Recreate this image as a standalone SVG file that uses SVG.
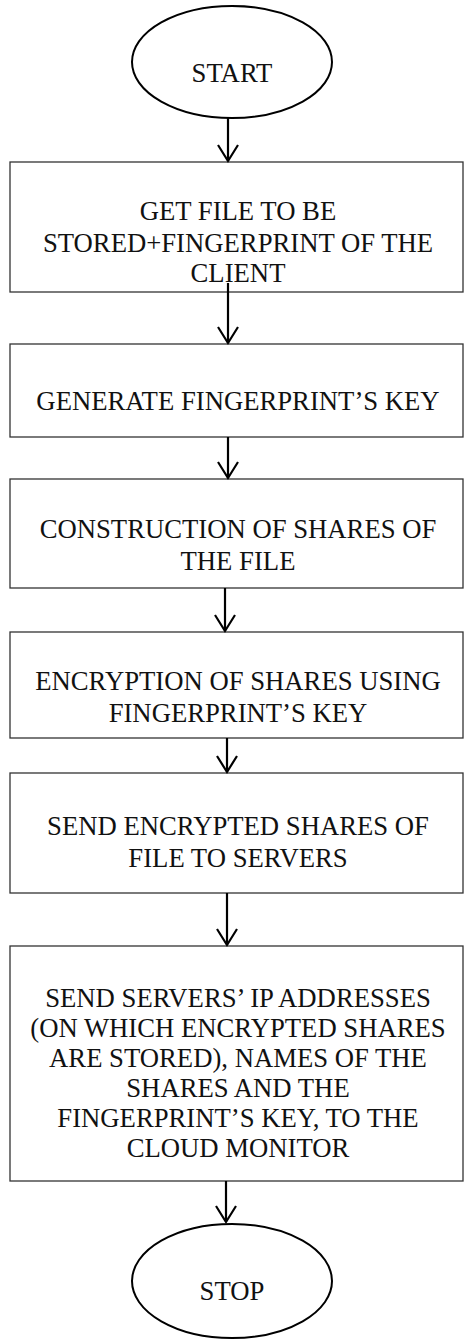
<svg xmlns="http://www.w3.org/2000/svg" width="467" height="1339" viewBox="0 0 467 1339">
<style>
.box{fill:#fff;stroke:#333;stroke-width:1.3}
.ell{fill:#fff;stroke:#000;stroke-width:2}
.t{font-family:"Liberation Serif","Times New Roman",serif;font-size:26.7px;fill:#111;text-anchor:middle}
.c line,.c polyline{stroke:#000;stroke-width:2.2;fill:none}
</style>
<rect width="467" height="1339" fill="#fff"/>
<g id="start"><ellipse class="ell" cx="232" cy="62" rx="100" ry="56"/><text class="t" x="232" y="82">START</text></g>
<g id="n1"><rect class="box" x="10" y="162" width="453" height="130"/>
<text class="t" x="238" y="220">GET FILE TO BE</text>
<text class="t" x="238" y="252">STORED+FINGERPRINT OF THE</text>
<text class="t" x="238" y="282">CLIENT</text></g>
<g id="n2"><rect class="box" x="10" y="344" width="453" height="93"/>
<text class="t" x="238" y="410">GENERATE FINGERPRINT’S KEY</text></g>
<g id="n3"><rect class="box" x="10" y="479" width="453" height="109"/>
<text class="t" x="238" y="538">CONSTRUCTION OF SHARES OF</text>
<text class="t" x="238" y="570">THE FILE</text></g>
<g id="n4"><rect class="box" x="10" y="632" width="453" height="106"/>
<text class="t" x="238" y="690">ENCRYPTION OF SHARES USING</text>
<text class="t" x="238" y="722">FINGERPRINT’S KEY</text></g>
<g id="n5"><rect class="box" x="10" y="773" width="453" height="120"/>
<text class="t" x="238" y="835">SEND ENCRYPTED SHARES OF</text>
<text class="t" x="238" y="867">FILE TO SERVERS</text></g>
<g id="n6"><rect class="box" x="10" y="946" width="453" height="235"/>
<text class="t" x="238" y="1007">SEND SERVERS’ IP ADDRESSES</text>
<text class="t" x="238" y="1037">(ON WHICH ENCRYPTED SHARES</text>
<text class="t" x="238" y="1067">ARE STORED), NAMES OF THE</text>
<text class="t" x="238" y="1097">SHARES AND THE</text>
<text class="t" x="238" y="1127">FINGERPRINT’S KEY, TO THE</text>
<text class="t" x="238" y="1157">CLOUD MONITOR</text></g>
<g id="stop"><ellipse class="ell" cx="232" cy="1281" rx="100" ry="57"/><text class="t" x="232" y="1300">STOP</text></g>
<g class="c" id="connectors">
<line x1="228" y1="117" x2="228" y2="161"/><polyline points="218,145 228,161 238,145"/>
<line x1="228" y1="283" x2="228" y2="343"/><polyline points="218,327 228,343 238,327"/>
<line x1="228" y1="437" x2="228" y2="478"/><polyline points="218,462 228,478 238,462"/>
<line x1="225" y1="588" x2="225" y2="631"/><polyline points="215,615 225,631 235,615"/>
<line x1="227" y1="738" x2="227" y2="772"/><polyline points="217,756 227,772 237,756"/>
<line x1="227" y1="893" x2="227" y2="945"/><polyline points="217,929 227,945 237,929"/>
<line x1="226" y1="1181" x2="226" y2="1222"/><polyline points="216,1206 226,1222 236,1206"/>
</g>
</svg>
